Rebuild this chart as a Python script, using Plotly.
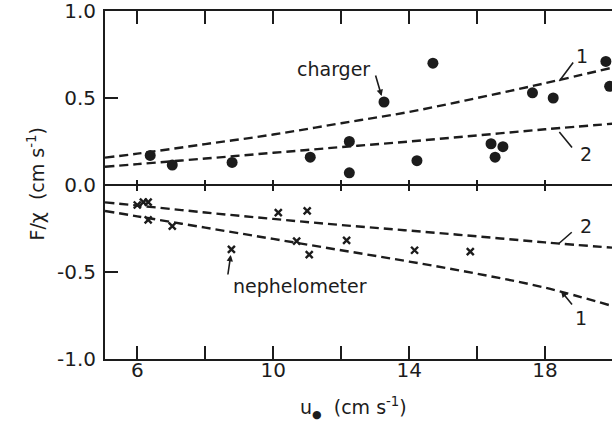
import plotly.graph_objects as go

# Charger measurements (filled circles)
charger_u = [6.38, 7.03, 8.79, 11.09, 12.24, 12.24, 13.26, 14.23, 14.70, 16.41, 16.53, 16.76, 17.63, 18.24, 19.79, 19.90]
charger_f = [0.17, 0.115, 0.13, 0.16, 0.25, 0.07, 0.477, 0.14, 0.70, 0.237, 0.16, 0.22, 0.53, 0.50, 0.71, 0.567]

# Nephelometer measurements (crosses)
neph_u = [6.00, 6.18, 6.32, 6.32, 7.03, 8.77, 10.15, 11.00, 10.69, 11.06, 12.16, 14.16, 15.80]
neph_f = [-0.115, -0.098, -0.098, -0.20, -0.236, -0.37, -0.159, -0.149, -0.322, -0.40, -0.318, -0.375, -0.383]

# Model curves 1 and 2 for each instrument
curve_u = [5.05, 6, 8, 10, 12, 14, 16, 18, 19.97]
charger_curve1 = [0.157, 0.18, 0.235, 0.29, 0.355, 0.42, 0.50, 0.585, 0.674]
charger_curve2 = [0.105, 0.12, 0.152, 0.185, 0.218, 0.25, 0.285, 0.32, 0.352]
neph_curve1 = [-0.149, -0.18, -0.245, -0.31, -0.375, -0.44, -0.51, -0.59, -0.695]
neph_curve2 = [-0.10, -0.118, -0.158, -0.195, -0.23, -0.262, -0.295, -0.33, -0.36]

x_ticks = [6, 8, 10, 12, 14, 16, 18]
x_ticktext = ["6", "", "10", "", "14", "", "18"]
y_ticks = [-1.0, -0.5, 0.0, 0.5, 1.0]
y_ticktext = ["-1.0", "-0.5", "0.0", "0.5", "1.0"]

INK = "#1c1c1c"
FONT = "DejaVu Sans"

fig = go.Figure()

dash_line = dict(color=INK, width=2.4, dash="9px,5px", shape="spline")
for ys in (charger_curve1, charger_curve2, neph_curve1, neph_curve2):
    fig.add_trace(go.Scatter(x=curve_u, y=ys, mode="lines", line=dash_line,
                             hoverinfo="skip", showlegend=False))

fig.add_trace(go.Scatter(x=charger_u, y=charger_f, mode="markers",
                         marker=dict(symbol="circle", size=11, color=INK),
                         showlegend=False))
fig.add_trace(go.Scatter(x=neph_u, y=neph_f, mode="markers",
                         marker=dict(symbol="x-thin", size=7, color=INK,
                                     line=dict(width=2.4, color=INK)),
                         showlegend=False))

# Invisible traces that carry the two halves of the centre axis at F/χ = 0
for ax in ("x2", "x3"):
    fig.add_trace(go.Scatter(x=[curve_u[0]], y=[0], xaxis=ax, mode="markers",
                             marker=dict(opacity=0), hoverinfo="skip", showlegend=False))

xrange = [5.05, 19.97]
tickfont = dict(family=FONT, size=20, color=INK)

fig.update_layout(
    width=612, height=431,
    margin=dict(l=105, r=0, t=11, b=72),
    paper_bgcolor="white", plot_bgcolor="white",
    showlegend=False,
    xaxis=dict(range=xrange, tickvals=x_ticks, ticktext=x_ticktext,
               ticks="inside", ticklen=13, tickwidth=2, tickcolor=INK,
               showline=True, linewidth=2, linecolor=INK, mirror="ticks",
               showgrid=False, zeroline=False, tickfont=tickfont,
               ticklabelstandoff=-8, ticklabeloverflow="allow"),
    xaxis2=dict(range=xrange, overlaying="x", anchor="free", position=0.5,
                tickvals=x_ticks, showticklabels=False,
                ticks="outside", ticklen=5, tickwidth=2, tickcolor=INK,
                showline=True, linewidth=2, linecolor=INK,
                showgrid=False, zeroline=False),
    xaxis3=dict(range=xrange, overlaying="x", anchor="free", position=0.5,
                tickvals=x_ticks, showticklabels=False,
                ticks="inside", ticklen=5, tickwidth=2, tickcolor=INK,
                showline=False, showgrid=False, zeroline=False),
    yaxis=dict(range=[-1, 1], tickvals=y_ticks, ticktext=y_ticktext,
               ticks="inside", ticklen=13, tickwidth=2, tickcolor=INK,
               showline=True, linewidth=2, linecolor=INK,
               showgrid=False, zeroline=False, tickfont=tickfont,
               ticklabelstandoff=3, ticklabeloverflow="allow"),
)

label_font = dict(family=FONT, size=19, color=INK)
annotations = [
    # axis titles
    dict(text="F/χ  (cm s<sup>-1</sup>)", xref="paper", yref="paper",
         x=-0.164, y=0.504, textangle=-90, showarrow=False, font=label_font),
    dict(text="u<sub><span style='font-size:11px'>●</span></sub>  (cm s<sup>-1</sup>)",
         xref="paper", yref="paper",
         x=0.49, y=-0.185, showarrow=False, font=label_font),
    # instrument labels
    dict(text="charger", x=11.77, y=0.667, showarrow=False, font=label_font),
    dict(text="nephelometer", x=10.8, y=-0.58, showarrow=False, font=label_font),
    # curve numbers
    dict(text="1", x=19.09, y=0.741, showarrow=False, font=label_font),
    dict(text="2", x=19.2, y=0.178, showarrow=False, font=label_font),
    dict(text="2", x=19.2, y=-0.236, showarrow=False, font=label_font),
    dict(text="1", x=19.06, y=-0.764, showarrow=False, font=label_font),
]

# leader lines: (tail_x, tail_y, head_x, head_y, arrowhead)
leaders = [
    (13.0, 0.638, 13.19, 0.511, 2),
    (18.86, 0.713, 18.42, 0.598, 0),
    (18.83, 0.207, 18.42, 0.305, 0),
    (18.83, -0.264, 18.39, -0.339, 0),
    (18.83, -0.695, 18.47, -0.609, 2),
    (8.66, -0.523, 8.75, -0.402, 2),
]
for tx, ty, hx, hy, head in leaders:
    annotations.append(dict(text="", x=hx, y=hy, ax=tx, ay=ty,
                            axref="x", ayref="y", showarrow=True,
                            arrowhead=head, arrowsize=0.8, arrowwidth=1.6,
                            arrowcolor=INK))

fig.update_layout(annotations=annotations)

fig.write_html("out.html")
